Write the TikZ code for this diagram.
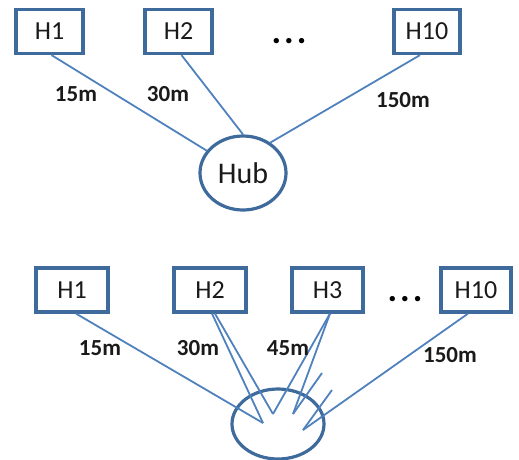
\documentclass[tikz,border=0pt]{standalone}
\usepackage{fontspec}
\setmainfont{Carlito}
\usetikzlibrary{shapes.geometric}
\definecolor{boxblue}{RGB}{62,106,156}
\definecolor{lineblue}{RGB}{79,129,189}
\definecolor{txt}{RGB}{26,26,26}
\begin{document}
\begin{tikzpicture}[x=1pt,y=-1pt,
  hbox/.style={draw=boxblue,line width=3.2pt,fill=white,minimum height=44pt,inner sep=0pt,font=\fontsize{26}{26}\selectfont,text=txt},
  hubnode/.style={ellipse,draw=boxblue,line width=3.2pt,inner sep=0pt,font=\fontsize{30}{30}\selectfont,text=txt},
  conn/.style={draw=lineblue,line width=1.8pt},
  dist/.style={font=\fontsize{23}{23}\selectfont\bfseries,text=txt,inner sep=0pt},
  dotsnode/.style={font=\fontsize{36}{36}\selectfont\bfseries,text=black,inner sep=0pt,anchor=base}
]
\useasboundingbox (0,0) rectangle (519,459);
% ---- top diagram ----
\node[hbox,minimum width=67pt] (tH1) at (49.5,31.5) {H1};
\node[hbox,minimum width=67pt] (tH2) at (178.5,31.5) {H2};
\node[hbox,minimum width=66pt] (tH10) at (427,31.5) {H10};
\node[dotsnode] (tdots) at (289,43) {.\hspace{3pt}.\hspace{3pt}.};
\node[hubnode,minimum width=86pt,minimum height=74pt] (hub) at (243,173) {Hub};
\draw[conn] ([xshift=2pt]tH1.south) -- (hub);
\draw[conn] ([xshift=3pt]tH2.south) -- (hub.north);
\draw[conn] ([xshift=-7pt]tH10.south) -- (hub.48);
\node[dist] (t15) at (76,94) {15m};
\node[dist] (t30) at (168,94) {30m};
\node[dist] (t150) at (403,100) {150m};
% ---- bottom diagram ----
\node[hbox,minimum width=72pt] (bH1) at (72,290) {H1};
\node[hbox,minimum width=72pt] (bH2) at (210,290) {H2};
\node[hbox,minimum width=71pt] (bH3) at (327.5,290) {H3};
\node[hbox,minimum width=70pt] (bH10) at (476,290) {H10};
\node[dotsnode] (bdots) at (405,301) {.\hspace{3pt}.\hspace{3pt}.};
\node[ellipse,draw=boxblue,line width=3.2pt,minimum width=92pt,minimum height=70pt] (hub2) at (278,424) {};
\coordinate (p1) at (263,423);
\coordinate (p2) at (273,414);
\coordinate (p3) at (293,414);
\coordinate (p4) at (303,430);
\coordinate (s1) at (322,373);
\coordinate (s2) at (332,390);
\draw[conn] ([xshift=4pt]bH1.south) -- (p1);
\draw[conn] ([xshift=2pt]bH2.south) -- (p1);
\draw[conn] ([xshift=5pt]bH2.south) -- (p2);
\draw[conn] ([xshift=2.5pt]bH3.south) -- (p2);
\draw[conn] ([xshift=2.5pt]bH3.south) -- (p3);
\draw[conn] (s1) -- (p3);
\draw[conn] (s2) -- (p4);
\draw[conn] ([xshift=-8pt]bH10.south) -- (p4);
\node[dist] (b15) at (100,348) {15m};
\node[dist] (b30) at (198,348) {30m};
\node[dist] (b45) at (288,348) {45m};
\node[dist] (b150) at (450,355) {150m};
\end{tikzpicture}
\end{document}
